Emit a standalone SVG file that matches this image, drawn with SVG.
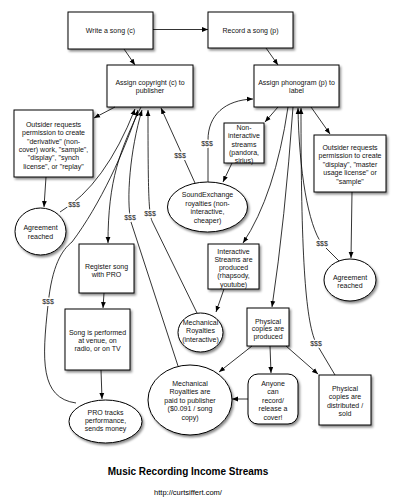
<svg xmlns="http://www.w3.org/2000/svg" width="400" height="502" viewBox="0 0 400 502">
<defs>
<filter id="sh" x="-20%" y="-20%" width="150%" height="150%">
<feDropShadow dx="1.5" dy="2" stdDeviation="1.2" flood-color="#000" flood-opacity="0.45"/>
</filter>
<marker id="ah" viewBox="0 0 10 10" refX="10" refY="5" markerWidth="6" markerHeight="6" orient="auto" markerUnits="userSpaceOnUse">
<path d="M0,1 L10,5 L0,9 z" fill="#000"/>
</marker>
</defs>
<style>
.n{fill:#fff;stroke:#000;stroke-width:1;filter:url(#sh)}
.t{font-family:"Liberation Sans",Arial,sans-serif;font-size:7px;fill:#111;text-anchor:middle}
.c{fill:none;stroke:#000;stroke-width:0.8}
.a{marker-end:url(#ah)}
.l{font-family:"Liberation Sans",Arial,sans-serif;font-size:7px;fill:#111;text-anchor:middle;stroke:#fff;stroke-width:3;paint-order:stroke}
</style>
<rect width="400" height="502" fill="#fff"/>

<g id="write"><rect class="n" x="68" y="12" width="85" height="37"/><text class="t" x="110.5" y="33">Write a song (c)</text></g>
<g id="record"><rect class="n" x="208" y="12" width="85" height="36"/><text class="t" x="250.5" y="32.5">Record a song (p)</text></g>
<g id="copyright"><rect class="n" x="107" y="65" width="86" height="42"/><text class="t" x="150" y="84.5">Assign copyright (c) to</text><text class="t" x="150" y="92.5">publisher</text></g>
<g id="phonogram"><rect class="n" x="254" y="65" width="85" height="42"/><text class="t" x="296.5" y="84.5">Assign phonogram (p) to</text><text class="t" x="296.5" y="92.5">label</text></g>
<g id="outsiderL"><rect class="n" x="14" y="110" width="79" height="67"/>
<text class="t" x="53.5" y="127">Outsider requests</text>
<text class="t" x="53.5" y="135.3">permission to create</text>
<text class="t" x="53.5" y="143.6">"derivative" (non-</text>
<text class="t" x="53.5" y="151.9">cover) work, "sample",</text>
<text class="t" x="53.5" y="160.2">"display", "synch</text>
<text class="t" x="53.5" y="168.5">license", or "replay"</text></g>
<g id="noninteractive"><rect class="n" x="224" y="123" width="40" height="40"/>
<text class="t" x="244" y="130">Non-</text>
<text class="t" x="244" y="138.3">interactive</text>
<text class="t" x="244" y="146.6">streams</text>
<text class="t" x="244" y="154.9">(pandora,</text>
<text class="t" x="244" y="163.2">sirius)</text></g>
<g id="outsiderR"><rect class="n" x="314" y="135" width="72" height="57"/>
<text class="t" x="350" y="149.5">Outsider requests</text>
<text class="t" x="350" y="158">permission to create</text>
<text class="t" x="350" y="166.5">"display", "master</text>
<text class="t" x="350" y="175">usage license" or</text>
<text class="t" x="350" y="183.5">"sample"</text></g>
<g id="soundexchange"><ellipse class="n" cx="207.5" cy="207" rx="40" ry="25"/>
<text class="t" x="207.5" y="197">SoundExchange</text>
<text class="t" x="207.5" y="205.5">royalties (non-</text>
<text class="t" x="207.5" y="214">interactive,</text>
<text class="t" x="207.5" y="222.5">cheaper)</text></g>
<g id="agreementL"><ellipse class="n" cx="40.5" cy="231.5" rx="25.5" ry="23.5"/>
<text class="t" x="40.5" y="229.5">Agreement</text>
<text class="t" x="40.5" y="238.5">reached</text></g>
<g id="register"><rect class="n" x="79" y="244" width="55" height="49"/>
<text class="t" x="106.5" y="268.5">Register song</text>
<text class="t" x="106.5" y="276.5">with PRO</text></g>
<g id="interactive"><rect class="n" x="208" y="244" width="51" height="45"/>
<text class="t" x="233.5" y="253.5">Interactive</text>
<text class="t" x="233.5" y="261.8">Streams are</text>
<text class="t" x="233.5" y="270.1">produced</text>
<text class="t" x="233.5" y="278.4">(rhapsody,</text>
<text class="t" x="233.5" y="286.7">youtube)</text></g>
<g id="agreementR"><ellipse class="n" cx="350" cy="280" rx="26" ry="21"/>
<text class="t" x="350" y="279.5">Agreement</text>
<text class="t" x="350" y="287.5">reached</text></g>
<g id="performed"><rect class="n" x="65" y="309" width="65" height="61"/>
<text class="t" x="97.5" y="334.5">Song is performed</text>
<text class="t" x="97.5" y="342.5">at venue, on</text>
<text class="t" x="97.5" y="350.5">radio, or on TV</text></g>
<g id="mechInteractive"><ellipse class="n" cx="200.5" cy="332.5" rx="22.5" ry="19.5"/>
<text class="t" x="200.5" y="324.5">Mechanical</text>
<text class="t" x="200.5" y="333">Royalties</text>
<text class="t" x="200.5" y="341.5">(interactive)</text></g>
<g id="physProduced"><rect class="n" x="247" y="308" width="42" height="38"/>
<text class="t" x="268" y="323.5">Physical</text>
<text class="t" x="268" y="331">copies are</text>
<text class="t" x="268" y="338.5">produced</text></g>
<g id="mechPaid"><ellipse class="n" cx="190" cy="400" rx="42" ry="35"/>
<text class="t" x="190" y="385.5">Mechanical</text>
<text class="t" x="190" y="394">Royalties are</text>
<text class="t" x="190" y="402.5">paid to publisher</text>
<text class="t" x="190" y="411">($0.091 / song</text>
<text class="t" x="190" y="419.5">copy)</text></g>
<g id="anyone"><rect class="n" x="248" y="374" width="50" height="50" rx="10" ry="10"/>
<text class="t" x="273" y="385.5">Anyone</text>
<text class="t" x="273" y="394">can</text>
<text class="t" x="273" y="402.5">record/</text>
<text class="t" x="273" y="411">release a</text>
<text class="t" x="273" y="419.5">cover!</text></g>
<g id="physDist"><rect class="n" x="319" y="375" width="52" height="50"/>
<text class="t" x="345" y="390.5">Physical</text>
<text class="t" x="345" y="399">copies are</text>
<text class="t" x="345" y="407.5">distributed /</text>
<text class="t" x="345" y="416">sold</text></g>
<g id="proTracks"><ellipse class="n" cx="105.5" cy="421.5" rx="36.5" ry="21.5"/>
<text class="t" x="105.5" y="414.5">PRO tracks</text>
<text class="t" x="105.5" y="422.5">performance,</text>
<text class="t" x="105.5" y="430.5">sends money</text></g>

<g id="connectors">
<path class="c a" d="M153,29.5 L208,29.5"/>
<path class="c a" d="M124,49 L135,65"/>
<path class="c a" d="M266,48 L278,65"/>
<path class="c a" d="M115,107 L94,118"/>
<path class="c a" d="M278,107 L265,122"/>
<path class="c a" d="M311,107 L330,134"/>
<path class="c a" d="M232,163 L223,182"/>
<path class="c a" d="M195,183 L161,108"/>
<path class="c a" d="M208,182 L208,140 C208,115 225,100 253,99"/>
<path class="c a" d="M46,177 L44,207"/>
<path class="c a" d="M60,212 Q105,185 135,109"/>
<path class="c a" d="M76,403 C40,398 42,360 48,305 C52,265 62,250 72,242 C100,205 125,150 138,110"/>
<path class="c a" d="M141,107 C120,150 108,180 108,243"/>
<path class="c a" d="M178,366 L131,222 C126,200 130,150 142,110"/>
<path class="c a" d="M197,313 L152,221 C149,213 148,200 148,110"/>
<path class="c a" d="M288,107 Q275,195 243,243"/>
<path class="c a" d="M293,107 Q285,220 272,307"/>
<path class="c a" d="M339,261 L322,244 C308,225 299,170 298,108"/>
<path class="c a" d="M335,375 L316,343 C305,320 301,250 301,108"/>
<path class="c a" d="M352,192 L351,258"/>
<path class="c a" d="M224,289 L216,312"/>
<path class="c a" d="M104,293 L103,308"/>
<path class="c a" d="M101,370 L102,399"/>
<path class="c a" d="M252,346 L219,372"/>
<path class="c a" d="M270,346 L271,373"/>
<path class="c a" d="M286,346 L318,374"/>
<path class="c a" d="M248,399 L232,399"/>
<text class="l" x="180" y="157.5">$$$</text>
<text class="l" x="207" y="145.5">$$$</text>
<text class="l" x="74" y="206.5">$$$</text>
<text class="l" x="48" y="303.5">$$$</text>
<text class="l" x="130" y="219.5">$$$</text>
<text class="l" x="150" y="216">$$$</text>
<text class="l" x="322" y="245.5">$$$</text>
<text class="l" x="316" y="345.5">$$$</text>
</g>

<text x="188" y="474.5" style="font-family:'Liberation Sans',Arial,sans-serif;font-size:10px;font-weight:bold;text-anchor:middle">Music Recording Income Streams</text>
<text x="188" y="495" style="font-family:'Liberation Sans',Arial,sans-serif;font-size:7.5px;text-anchor:middle">http://curtsiffert.com/</text>
</svg>
